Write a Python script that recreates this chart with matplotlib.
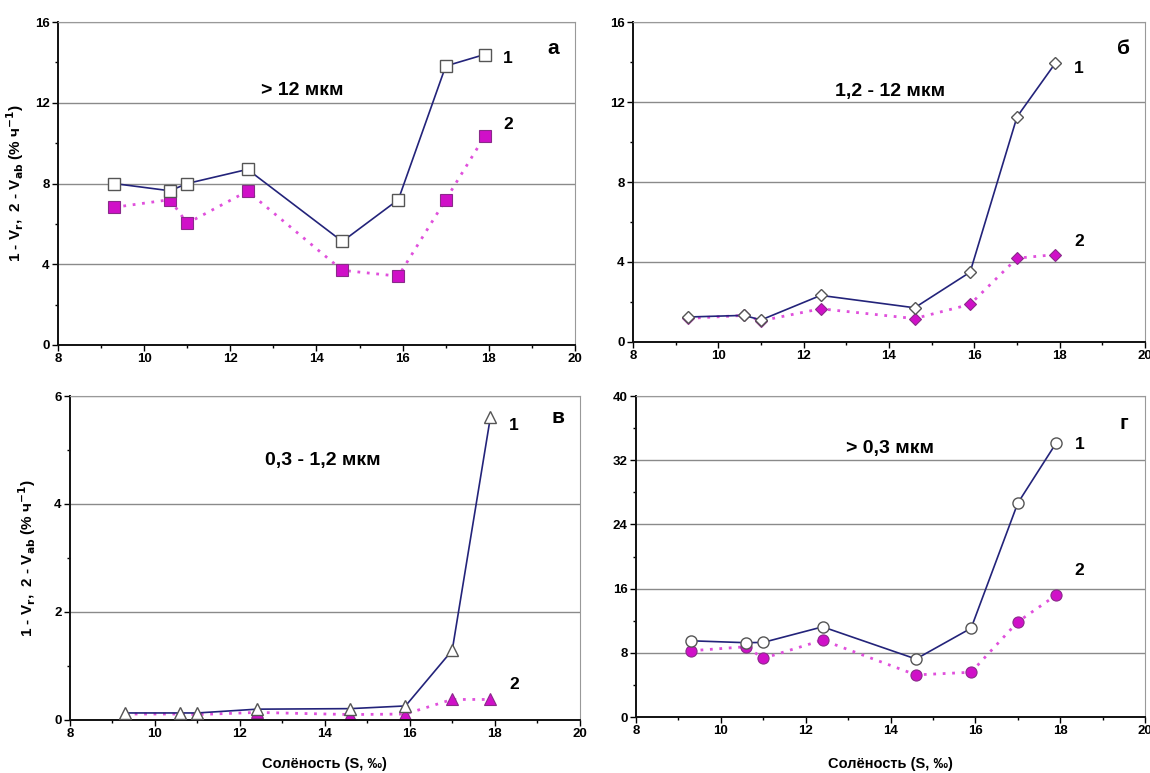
import matplotlib
matplotlib.use("Agg")
import matplotlib.pyplot as plt
from matplotlib.ticker import MultipleLocator

plt.rcParams['font.family'] = ['Liberation Sans', 'DejaVu Sans']
plt.rcParams['font.weight'] = 'bold'

salinity = [9.3, 10.6, 11.0, 12.4, 14.6, 15.9, 17.0, 17.9]

# а: > 12 мкм
vr_a = [8.0, 7.64, 8.0, 8.7, 5.13, 7.2, 13.82, 14.39]
vab_a = [6.82, 7.2, 6.03, 7.62, 3.7, 3.41, 7.2, 10.33]
# б: 1,2 - 12 мкм
vr_b = [1.25, 1.33, 1.1, 2.33, 1.71, 3.49, 11.26, 13.95]
vab_b = [1.18, 1.33, 1.06, 1.66, 1.17, 1.88, 4.19, 4.37]
# в: 0,3 - 1,2 мкм
vr_c = [0.13, 0.13, 0.13, 0.2, 0.21, 0.26, 1.29, 5.61]
vab_c = [0.11, 0.11, 0.1, 0.14, 0.1, 0.11, 0.38, 0.38]
# г: > 0,3 мкм
vr_d = [9.5, 9.26, 9.3, 11.24, 7.23, 11.07, 26.65, 34.1]
vab_d = [8.26, 8.76, 7.31, 9.59, 5.25, 5.58, 11.86, 15.17]

size_labels = ['> 12 мкм', '1,2 - 12 мкм', '0,3 - 1,2 мкм', '> 0,3 мкм']
panel_letters = ['а', 'б', 'в', 'г']
ylabel = '1 - V$_\\mathbf{r}$,  2 - V$_\\mathbf{ab}$ (% ч$^\\mathbf{-1}$)'
xlabel = 'Солёность (S, ‰)'

panels = [
    # rect, vr, vab, marker, ymax, ystep, text pos, label1 y, label2 y, letter y, marker size
    ([0.0504, 0.5537, 0.4496, 0.4178], vr_a, vab_a, 's', 16, 4, (13.66, 12.6), 14.2, 10.9, 14.7, 8.5),
    ([0.5504, 0.5576, 0.4453, 0.4139], vr_b, vab_b, 'D', 16, 4, (14.02, 12.54), 13.7, 5.0, 14.7, 6.5),
    ([0.0609, 0.0686, 0.4431, 0.4191], vr_c, vab_c, '^', 6, 2, (13.95, 4.8), 5.45, 0.65, 5.6, 8.0),
    ([0.553, 0.0724, 0.4427, 0.4153], vr_d, vab_d, 'o', 40, 8, (13.98, 33.5), 33.9, 18.2, 36.6, 8.0),
]
ylabel_x = {0: -0.062, 2: -0.063}
xlabel_y = {2: -0.115, 3: -0.125}

fig = plt.figure(figsize=(11.5, 7.73), dpi=100)

for i, (rect, vr, vab, mk, ymax, ystep, tpos, l1, l2, ly, ms) in enumerate(panels):
    ax = fig.add_axes(rect)
    ax.plot(salinity, vr, color='#23237a', lw=1.2, marker=mk, ms=ms,
            mfc='white', mec='#555555', mew=1.0, zorder=3)
    ax.plot(salinity, vab, color='#e050dc', lw=2.0, ls=(0, (1, 2.4)), marker=mk, ms=ms,
            mfc='#d010c8', mec='#8a2a8a', mew=0.8, zorder=2)
    ax.set_xlim(8, 20)
    ax.set_ylim(0, ymax)
    ax.xaxis.set_major_locator(MultipleLocator(2))
    ax.xaxis.set_minor_locator(MultipleLocator(1))
    ax.yaxis.set_major_locator(MultipleLocator(ystep))
    ax.yaxis.set_minor_locator(MultipleLocator(ystep / 2))
    ax.grid(axis='y', which='major', color='#8a8a8a', lw=1.0)
    ax.set_axisbelow(True)
    ax.tick_params(which='major', direction='out', length=4, width=1, labelsize=9.5, pad=2)
    ax.tick_params(which='minor', direction='out', length=2.5, width=1)
    for t in ax.get_xticklabels() + ax.get_yticklabels():
        t.set_fontweight('bold')
    ax.spines['left'].set_color('#111111')
    ax.spines['bottom'].set_color('#111111')
    ax.spines['left'].set_linewidth(1.4)
    ax.spines['bottom'].set_linewidth(1.4)
    ax.spines['top'].set_color('#999999')
    ax.spines['right'].set_color('#999999')

    ax.text(tpos[0], tpos[1], size_labels[i], ha='center', va='center',
            fontsize=14, fontweight='bold')
    ax.text(18.45, l1, '1', ha='center', va='center', fontsize=12.5, fontweight='bold')
    ax.text(18.45, l2, '2', ha='center', va='center', fontsize=12.5, fontweight='bold')
    ax.text(19.5, ly, panel_letters[i], ha='center', va='center', fontsize=15, fontweight='bold')

    if i in ylabel_x:
        ax.set_ylabel(ylabel, fontsize=11, fontweight='bold')
        ax.yaxis.set_label_coords(ylabel_x[i], 0.5)
    if i in xlabel_y:
        ax.set_xlabel(xlabel, fontsize=10.5, fontweight='bold')
        ax.xaxis.set_label_coords(0.5, xlabel_y[i])

fig.savefig('out.png', dpi=100)
